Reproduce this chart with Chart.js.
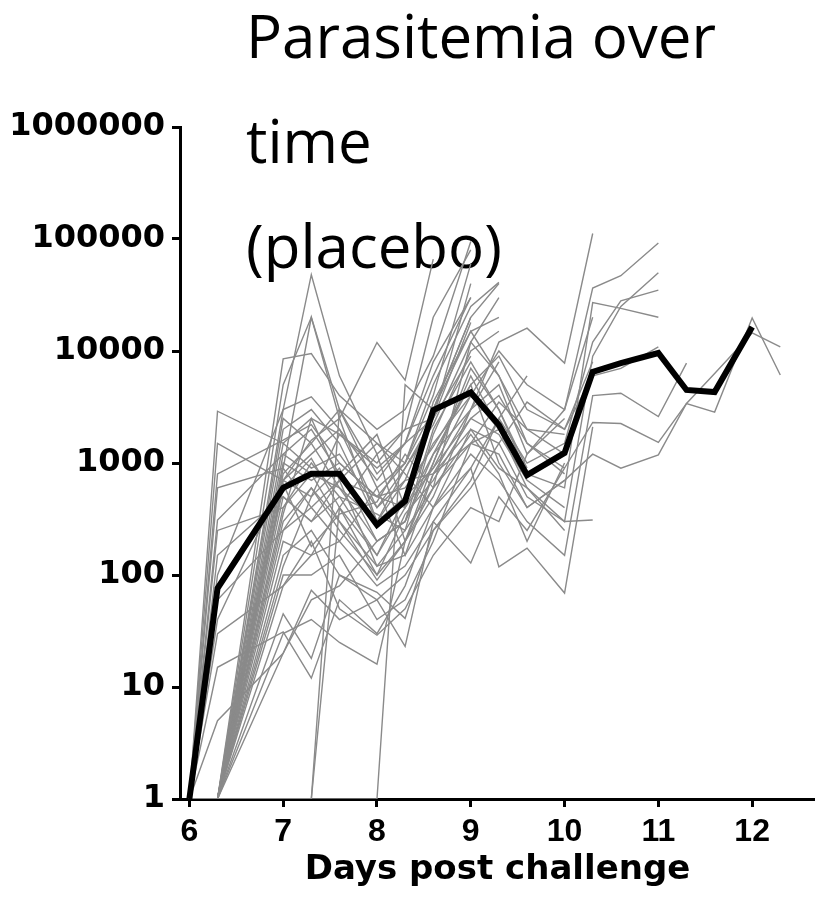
<!DOCTYPE html>
<html>
<head>
<meta charset="utf-8">
<script src="https://cdn.jsdelivr.net/npm/chart.js@4.4.0/dist/chart.umd.min.js"></script>
<style>
  html, body { margin: 0; padding: 0; background: #fff; }
  .wrap { position: relative; width: 815px; height: 902px; background: #fff; }
  .title {
    position: absolute; left: 246px; top: -17px;
    font-family: 'Open Sans', sans-serif; font-size: 60px; line-height: 105px;
    color: #000; white-space: nowrap;
  }
  #chart { position: absolute; left: 0; top: 0; }
</style>
</head>
<body>
<div class="wrap">
  <div class="title">Parasitemia over<br>time<br>(placebo)</div>
  <canvas id="chart" width="815" height="902"></canvas>
</div>
<script>
// sampling days (x) and axis ticks
const days = [6, 6.3, 7, 7.3, 7.6, 8, 8.3, 8.6, 9, 9.3, 9.6, 10, 10.3, 10.6, 11, 11.3, 11.6, 12, 12.3];
const dayTicks = [6, 7, 8, 9, 10, 11, 12];
const decadeTicks = [1, 10, 100, 1000, 10000, 100000, 1000000];

// geometric mean (black line)
const meanValues = [1, 76, 600, 800, 800, 280, 457, 2970, 4260, 2185, 780, 1230, 6500, 7800, 9600, 4490, 4300, 16400];

// individual subjects (grey lines), parasites/mL per sampling day
const s01 = [1, 2900, 1500, 2500, 1800, 900, 1500, 8000, 30000];
const s02 = [1, 1500, 700, 1200, 2000, 400, 700, 3000, 20000, 40000];
const s03 = [1, 800, 1600, 2200, 1000, 500, 600, 1400, 5000, 9000, 3000, 2000, 6000, 7000, 10900];
const s04 = [1, 600, 900, 20000, 3000, 1500, 1000, 4000, 60000];
const s05 = [1, 310, 1200, 800, 600, 200, 300, 2000, 8000, 3000, 800, 600, 27000, 24000, 20000];
const s06 = [1, 250, 400, 1000, 500, 150, 400, 900, 2500, 4000, 1500, 900, 2300, 2250, 1530, 3400, 2850, 19700, 6100];
const s07 = [1, 150, 500, 300, 700, 120, 250, 600, 1500, 1200, 400, 700, 1200, 900, 1180, 3400, 6300, 14500, 10900];
const s08 = [1, 100, 3000, 48000, 6000, 1200, 2000, 20000, 80000];
const s09 = [1, 60, 250, 600, 300, 90, 200, 500, 3000, 12000, 16000, 7800, 112000];
const s10 = [1, 30, 80, 150, 400, 100, 200, 1000, 6000, 2000, 600, 300, 9000, 25000, 50000];
const s11 = [1, 15, 31, 12, 60, 30, 80, 400, 1200, 700, 300, 150, 4000, 4200, 2600, 7800];
const s12 = [1, 5, 20, 73, 40, 60, 23, 300, 900, 2500, 1000, 1500, 12000, 28000, 35000];
const s13 = [1, 1, 8500, 9500, 4000, 2000, 3000, 9000, 95000];
const s14 = [1, 1, 5000, 20000, 2500, 11900, 5500, 66000];
const s15 = [1, 1, 3000, 3900, 2000, 700, 1500, 2500, 40000];
const s16 = [1, 1, 2500, 1500, 3000, 600, 1000, 5000, 25000, 41000];
const s17 = [1, 1, 2000, 3000, 1500, 300, 500, 1500, 4000, 10000, 5000, 3000, 36500, 47000, 92000];
const s18 = [1, 1, 1500, 900, 1200, 400, 900, 2200, 12000, 6000, 2000, 1200, 6000];
const s19 = [1, 1, 1200, 2000, 800, 1800, 400, 1200, 3000, 5000, 1200, 2500];
const s20 = [1, 1, 1000, 700, 1000, 500, 400, 3500, 15000, 20000];
const s21 = [1, 1, 800, 1500, 600, 300, 700, 800, 2000, 1500, 500, 300, 310];
const s22 = [1, 1, 700, 500, 900, 200, 300, 1000, 7000, 3000, 900];
const s23 = [1, 1, 600, 1100, 400, 1200, 200, 600, 1800, 800, 200, 1000];
const s24 = [1, 1, 500, 300, 500, 350, 250, 1800, 10000, 15000];
const s25 = [1, 1, 400, 800, 300, 120, 150, 400, 900, 118, 174, 69, 2100];
const s26 = [1, 1, 300, 600, 250, 100, 350, 700, 2500, 1800, 700, 400];
const s27 = [1, 1, 250, 400, 700, 500, 1000, 3000, 20000];
const s28 = [1, 1, 200, 150, 200, 80, 120, 300, 128, 500, 250, 900];
const s29 = [1, 1, 150, 250, 100, 60, 100, 250, 600, 1500, 3500, 2000, 8000];
const s30 = [1, 1, 100, 100, 150, 40, 60, 200, 1500, 2000, 800];
const s31 = [1, 1, 80, 200, 50, 29, 50, 150, 400, 300, 1200, 3000, 20000];
const s32 = [1, 1, 45, 18, 100, 70, 41, 250, 700, 2500, 6000];
const s33 = [1, 1, 30, 40, 25, 16, 200, 800, 3000, 8000];
const s34 = [1, 1, 20, 60, 80, 200, 300, 1200, 5000, 1000, 400, 700];
const s35 = [1, 1, 1, 1, 3000, 800, 1500, 6000, 30000];
const s36 = [1, 1, 1, 1, 1, 1, 5000, 3000, 15000, 6000, 1500, 800];
const s37 = [1, 1, 1, 1, 400, 150, 500, 900, 4000, 2000];
const s38 = [1, 1, 120, 500, 1800, 1000, 2000, 2500, 9000];
const s39 = [1, 1, 350, 2500, 700, 1500, 800, 400, 2000, 900, 600, 250];
const s40 = [1, 1, 650, 180, 350, 450, 1200, 600, 12000, 30000];
const s41 = [1, 40, 700, 1600, 2500, 300, 900, 2500, 18000];
const s42 = [1, 1, 900, 400, 200, 600, 150, 800, 1500, 3500, 2000, 1800];

const subjects = [s01, s02, s03, s04, s05, s06, s07, s08, s09, s10, s11, s12, s13,
    s14, s15, s16, s17, s18, s19, s20, s21, s22, s23, s24, s25, s26, s27, s28, s29,
    s30, s31, s32, s33, s34, s35, s36, s37, s38, s39, s40, s41, s42];

function toPoints(values) {
    return days.map((d, i) => ({ x: d, y: values[i] })).filter(p => p.y != null);
}

// black mean line first so it is drawn on top
const datasets = [{
    data: toPoints(meanValues),
    borderColor: '#000',
    borderWidth: 6,
    pointRadius: 0,
}];
subjects.forEach(s => {
    datasets.push({
        data: toPoints(s),
        borderColor: '#8a8a8a',
        borderWidth: 1.4,
        pointRadius: 0,
    });
});

const tickFont = { family: "'Liberation Sans', Arial, sans-serif", size: 32, weight: 'bold' };
const yTickFont = { family: "'DejaVu Sans', sans-serif", size: 32, weight: 'bold' };

const config = {
    type: 'line',
    data: { datasets: datasets },
    options: {
        responsive: false,
        animation: false,
        layout: { padding: { top: 127, left: 0, right: 0, bottom: 0 } },
        plugins: { legend: { display: false }, tooltip: { enabled: false } },
        elements: { line: { tension: 0 } },
        scales: {
            x: {
                type: 'linear',
                min: 5.9,
                max: 12.67,
                afterBuildTicks: s => { s.ticks = dayTicks.map(v => ({ value: v })); },
                afterFit: s => { s.height = 103; },
                border: { display: true, color: '#000', width: 3 },
                grid: { drawOnChartArea: false, drawTicks: true, tickLength: 8, tickWidth: 3, tickColor: '#000' },
                ticks: { color: '#000', padding: 6, font: tickFont, maxRotation: 0, autoSkip: false },
                title: {
                    display: true,
                    text: 'Days post challenge',
                    color: '#000',
                    font: { family: "'DejaVu Sans', sans-serif", size: 34, weight: 'bold', lineHeight: 1 },
                    padding: { top: 0, bottom: 15 },
                },
            },
            y: {
                type: 'logarithmic',
                min: 1,
                max: 1000000,
                afterBuildTicks: s => { s.ticks = decadeTicks.map(v => ({ value: v, major: true })); },
                afterFit: s => { s.width = 180; },
                border: { display: true, color: '#000', width: 3 },
                grid: { drawOnChartArea: false, drawTicks: true, tickLength: 8, tickWidth: 3, tickColor: '#000' },
                ticks: { color: '#000', padding: 7, font: yTickFont, callback: v => String(v) },
            },
        },
    },
};

const myChart = new Chart(document.getElementById('chart'), config);
</script>
</body>
</html>
